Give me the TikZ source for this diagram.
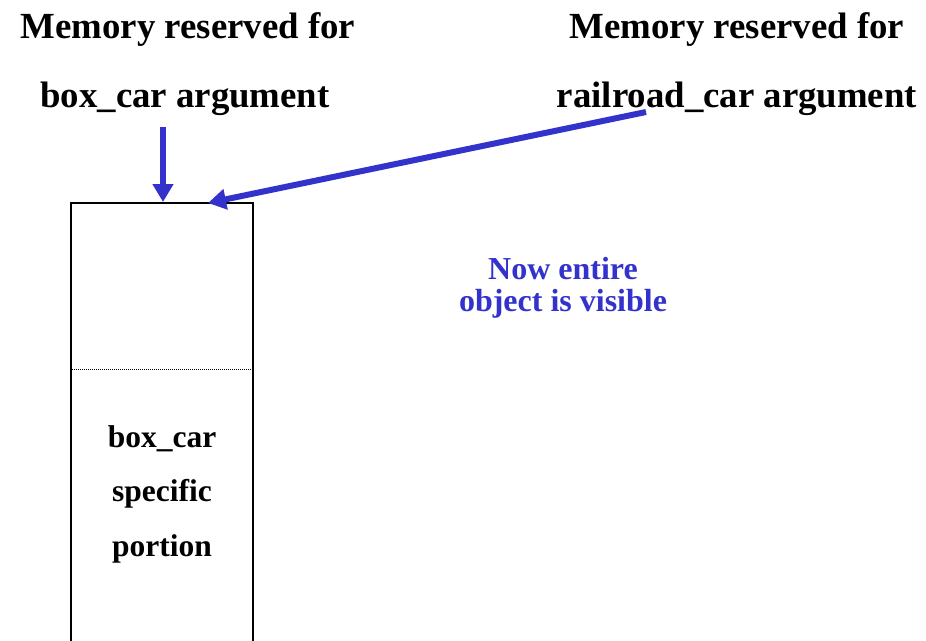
\documentclass[tikz,border=0pt]{standalone}
\usepackage{fontspec}
\setmainfont{Liberation Serif}
\usetikzlibrary{arrows.meta}
\definecolor{arrowblue}{RGB}{51,51,204}
\tikzset{
  title/.style={font=\bfseries\fontsize{36.8}{40}\selectfont, inner sep=0pt, anchor=center},
  boxtext/.style={font=\bfseries\fontsize{31.5}{34}\selectfont, inner sep=0pt, anchor=center},
  note/.style={font=\bfseries\fontsize{32}{34}\selectfont, inner sep=0pt, text=arrowblue, anchor=center},
  pointer/.style={draw=arrowblue, line width=6pt, -{Triangle[width=20pt,length=18pt]}},
  wall/.style={draw=black, line width=1.4pt}
}
\begin{document}
\begin{tikzpicture}[x=1pt,y=-1pt]
\useasboundingbox (0,0) rectangle (926,640);
\node[title] (t1a) at (188,30) {Memory reserved for};
\node[title] (t1b) at (185,99) {box\_car argument};
\node[title] (t2a) at (737,30) {Memory reserved for};
\node[title] (t2b) at (737,99) {railroad\_car argument};
\coordinate (bl) at (71,641);
\coordinate (tl) at (71,203);
\coordinate (tr) at (253,203);
\coordinate (br) at (253,641);
\draw[wall] (bl) -- (tl) -- (tr) -- (br);
\coordinate (dl) at (72,369);
\coordinate (dr) at (252,369);
\draw[densely dotted, line width=1pt] (dl) -- (dr);
\coordinate (a1s) at (163,127);
\coordinate (a1e) at (163,202);
\coordinate (a2s) at (646,112);
\coordinate (a2e) at (208,203);
\draw[pointer] (a1s) -- (a1e);
\draw[pointer] (a2s) -- (a2e);
\node[boxtext] (b1) at (162,439) {box\_car};
\node[boxtext] (b2) at (162,494) {specific};
\node[boxtext] (b3) at (162,549) {portion};
\node[note] (n1) at (563,269) {Now entire};
\node[note] (n2) at (563,304) {object is visible};
\end{tikzpicture}
\end{document}
